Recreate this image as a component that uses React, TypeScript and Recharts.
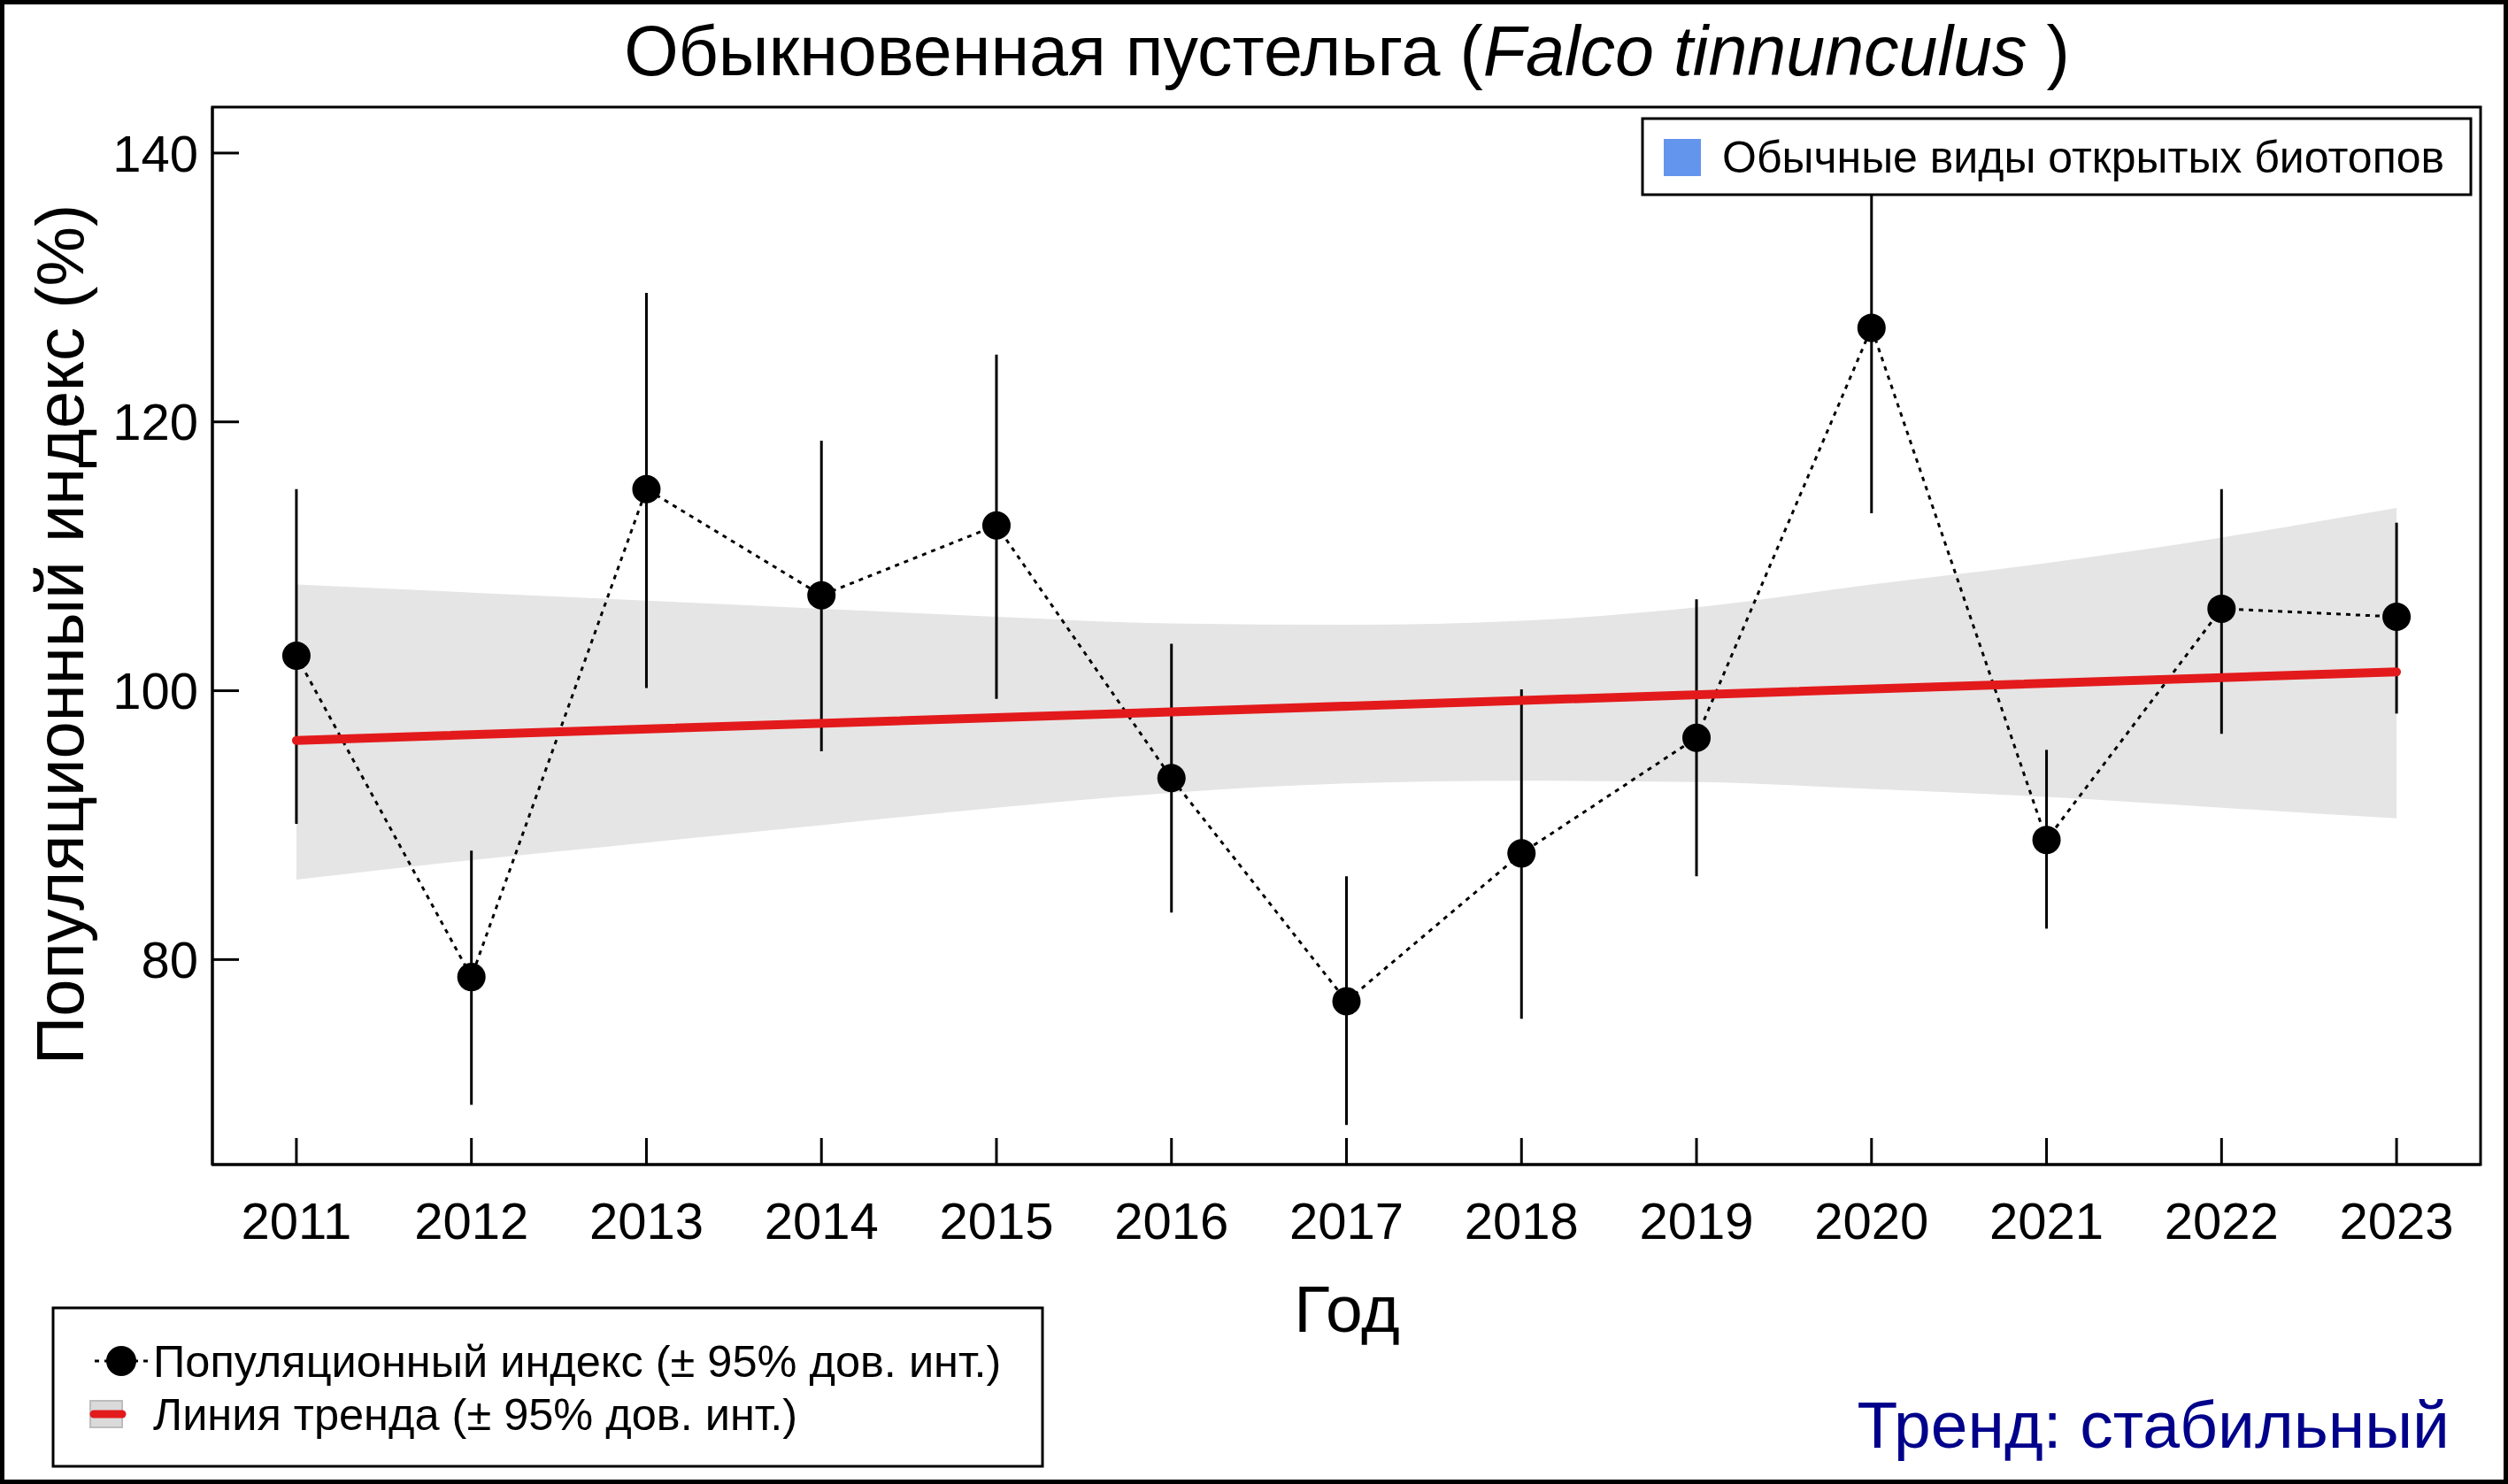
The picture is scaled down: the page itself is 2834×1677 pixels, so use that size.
import React from 'react';
import { ComposedChart, Line, Area, XAxis, YAxis, ErrorBar } from 'recharts';

const YEARS = [2011, 2012, 2013, 2014, 2015, 2016, 2017, 2018, 2019, 2020, 2021, 2022, 2023];
const INDEX = [102.6, 78.7, 115.0, 107.1, 112.3, 93.5, 76.9, 87.9, 96.5, 127.0, 88.9, 106.1, 105.5];
const CI_LOW = [90.1, 69.2, 100.2, 95.5, 99.4, 83.5, 67.7, 75.6, 86.2, 113.2, 82.3, 96.8, 98.3];
const CI_HIGH = [115.0, 88.1, 129.6, 118.6, 125.0, 103.5, 86.2, 100.1, 106.8, 140.5, 95.6, 115.0, 112.5];
// trend line only drawn between first and last year
const TREND = [96.3, null, null, null, null, null, null, null, null, null, null, null, 101.4];
const BAND_LOW = [85.95, 87.4, 88.7, 90.0, 91.3, 92.4, 93.1, 93.3, 93.2, 92.7, 92.1, 91.3, 90.5];
const BAND_HIGH = [107.9, 107.3, 106.7, 106.1, 105.5, 105.0, 104.9, 105.2, 106.2, 107.9, 109.5, 111.4, 113.6];
const Y_TICKS = [80, 100, 120, 140];

const W = 2834;
const H = 1677;
const FONT = '"Liberation Sans", Arial, sans-serif';

const data = YEARS.map((year, i) => ({
  year,
  index: INDEX[i],
  ci: [INDEX[i] - CI_LOW[i], CI_HIGH[i] - INDEX[i]],
  band: [BAND_LOW[i], BAND_HIGH[i]],
  trend: TREND[i],
}));

const X_DOMAIN = [2010.52, 2023.48];
const Y_DOMAIN = [64.75, 143.42];

// plot box (R draws a full frame around the plot region)
const PLOT = { left: 240, top: 121, right: 2803, bottom: 1316 };

export default function App() {
  return (
    <div style={{ position: 'absolute', left: 0, top: 0, width: W, height: H, background: '#fff', fontFamily: FONT }}>
      <div style={{ position: 'absolute', left: 0, top: 0 }}>
        <ComposedChart
          width={W}
          height={H}
          data={data}
          margin={{ top: PLOT.top, right: W - PLOT.right, left: 0, bottom: 0 }}
        >
          <XAxis
            dataKey="year"
            type="number"
            domain={X_DOMAIN}
            ticks={YEARS}
            interval={0}
            allowDataOverflow
            height={H - PLOT.bottom}
            tickSize={-30}
            tickMargin={73}
            tickLine={{ stroke: '#000', strokeWidth: 3 }}
            axisLine={{ stroke: '#000', strokeWidth: 3 }}
            tick={{ fill: '#000', fontSize: 58, fontFamily: FONT }}
          />
          <YAxis
            type="number"
            domain={Y_DOMAIN}
            ticks={Y_TICKS}
            interval={0}
            allowDataOverflow
            width={PLOT.left}
            tickSize={-30}
            tickMargin={46}
            tickLine={{ stroke: '#000', strokeWidth: 3 }}
            axisLine={{ stroke: '#000', strokeWidth: 3 }}
            tick={{ fill: '#000', fontSize: 58, fontFamily: FONT }}
          />
          <Area
            dataKey="band"
            type="monotone"
            stroke="none"
            fill="#E5E5E5"
            fillOpacity={1}
            isAnimationActive={false}
          />
          <Line
            dataKey="index"
            type="linear"
            stroke="#000"
            strokeWidth={3}
            strokeDasharray="5 6"
            dot={{ r: 16, fill: '#000', stroke: 'none', strokeDasharray: '' }}
            activeDot={false}
            isAnimationActive={false}
          >
            <ErrorBar dataKey="ci" width={0} stroke="#000" strokeWidth={3} direction="y" isAnimationActive={false} />
          </Line>
          <Line
            dataKey="trend"
            type="linear"
            stroke="#E31A1C"
            strokeWidth={10}
            strokeLinecap="round"
            connectNulls
            dot={false}
            activeDot={false}
            isAnimationActive={false}
          />
        </ComposedChart>
      </div>

      <svg width={W} height={H} style={{ position: 'absolute', left: 0, top: 0, pointerEvents: 'none' }} fontFamily={FONT}>
        <rect
          x={PLOT.left}
          y={PLOT.top}
          width={PLOT.right - PLOT.left}
          height={PLOT.bottom - PLOT.top}
          fill="none"
          stroke="#000"
          strokeWidth={3}
        />
        <text x={1522} y={85} fontSize={79} textAnchor="middle" fill="#000">
          Обыкновенная пустельга (<tspan fontStyle="italic">Falco tinnunculus</tspan> )
        </text>
        <text x={1522} y={1505} fontSize={75} textAnchor="middle" fill="#000">Год</text>
        <text transform="translate(94,717) rotate(-90)" fontSize={76} textAnchor="middle" fill="#000">
          Популяционный индекс (%)
        </text>
        <text x={2768} y={1636} fontSize={75} textAnchor="end" fill="#00008B">Тренд: стабильный</text>

        {/* habitat group box, top right */}
        <rect x={1856} y={134} width={936} height={86} fill="#fff" stroke="#000" strokeWidth={3} />
        <rect x={1880} y={157} width={42} height={42} fill="#6495ED" />
        <text x={1946} y={195} fontSize={50} fill="#000">Обычные виды открытых биотопов</text>

        {/* series legend, bottom left */}
        <rect x={60} y={1478} width={1118} height={179} fill="#fff" stroke="#000" strokeWidth={3} />
        <line x1={107} y1={1538} x2={167} y2={1538} stroke="#000" strokeWidth={3} strokeDasharray="5 6" />
        <circle cx={137} cy={1538} r={17} fill="#000" />
        <text x={173} y={1556} fontSize={50.5} fill="#000">Популяционный индекс (± 95% дов. инт.)</text>
        <rect x={102} y={1583} width={36} height={30} fill="#DADADA" stroke="#BDBDBD" strokeWidth={2} />
        <line x1={106} y1={1598} x2={138} y2={1598} stroke="#E31A1C" strokeWidth={9} strokeLinecap="round" />
        <text x={173} y={1616} fontSize={50.5} fill="#000">Линия тренда (± 95% дов. инт.)</text>
      </svg>

      <div style={{ position: 'absolute', left: 0, top: 0, width: W, height: H, boxSizing: 'border-box', border: '5px solid #000', pointerEvents: 'none' }} />
    </div>
  );
}
